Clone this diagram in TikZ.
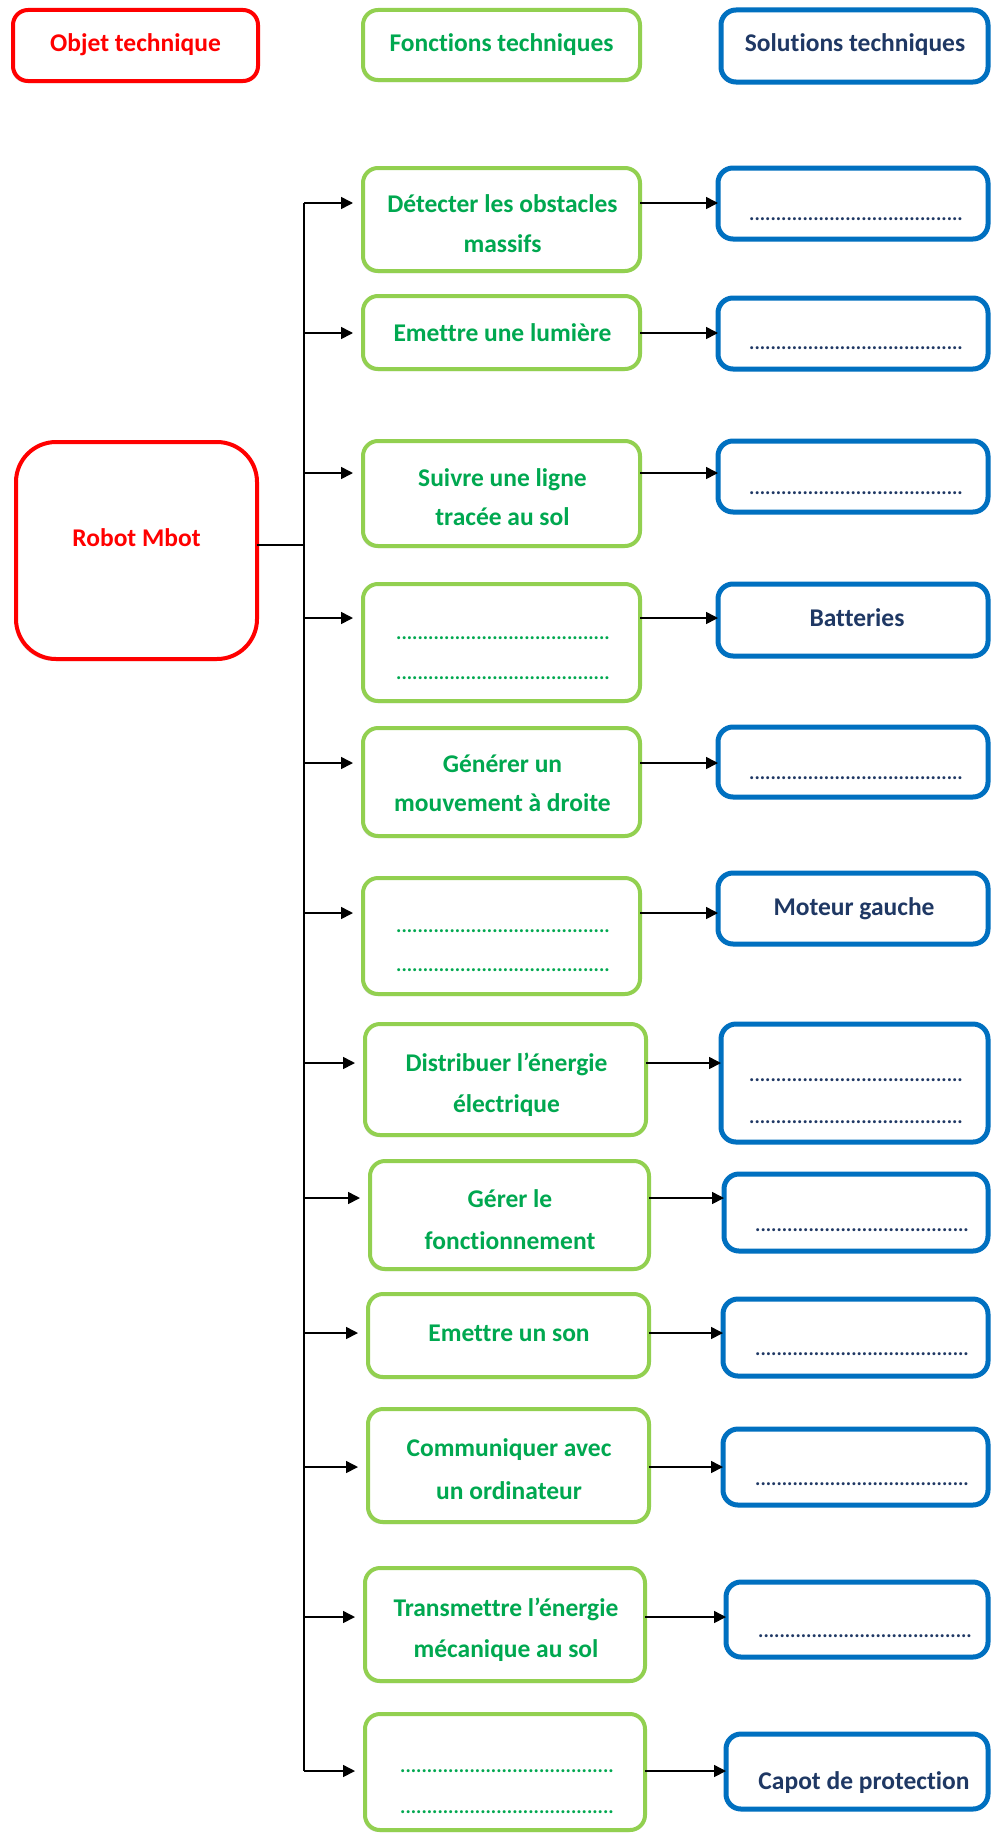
\documentclass[tikz,border=0pt]{standalone}
\usepackage{fontspec}
\setmainfont{Carlito}[Ligatures=NoCommon]
\usetikzlibrary{arrows.meta,shadows}
\definecolor{cred}{HTML}{FF0000}
\definecolor{cgreenb}{HTML}{92D050}
\definecolor{cgreent}{HTML}{00A850}
\definecolor{cblueb}{HTML}{0070C0}
\definecolor{cbluet}{HTML}{1F3864}
\newcommand\drow{........................................}
\newcommand\mkbox[6]{\node[#1, minimum width={(#5-#3)*1pt}, minimum height={(#6-#4)*1pt}] (#2) at ({(#3+#5)/2},{(#4+#6)/2}) {};}
\tikzset{
 box/.style={draw, fill=white, rounded corners=15pt, line width=4pt, inner sep=0pt, outer sep=0pt,
   drop shadow={shadow xshift=-1.5pt, shadow yshift=-2pt, opacity=0.15, fill=black}},
 redbox/.style={box, draw=cred},
 grnbox/.style={box, draw=cgreenb},
 blubox/.style={box, draw=cblueb, line width=5pt},
 txt/.style={font=\bfseries\fontsize{25.5}{40}\selectfont, inner sep=0pt, anchor=base},
 rtxt/.style={txt, text=cred},
 gtxt/.style={txt, text=cgreent},
 btxt/.style={txt, text=cbluet},
 gdots/.style={gtxt, font=\bfseries\fontsize{20}{24}\selectfont},
 bdots/.style={btxt, font=\bfseries\fontsize{20}{24}\selectfont},
 arr/.style={line width=1.6pt, -{Triangle[length=12pt,width=12pt]}},
 busline/.style={line width=2pt},
}
\begin{document}
\begin{tikzpicture}[x=1pt,y=-1pt]
\fill[white] (0,0) rectangle (993,1836);
\useasboundingbox (0,0) rectangle (993,1836);

% headers
\mkbox{redbox}{H1}{13}{10}{258}{81}
\mkbox{grnbox}{H2}{363}{10}{640}{80}
\mkbox{blubox}{H3}{721}{10}{988}{82}
\node[rtxt] (H1t) at (135.5,52) {Objet technique};
\node[gtxt] (H2t) at (501.5,52) {Fonctions techniques};
\node[btxt] (H3t) at (855,52) {Solutions techniques};

% robot
\mkbox{redbox, rounded corners=40pt}{R}{16}{442}{257}{659}
\node[rtxt] (Rt) at (136.5,546) {Robot Mbot};

% function boxes
\mkbox{grnbox}{F1}{363}{168}{640}{271}
\mkbox{grnbox}{F2}{363}{296}{640}{369}
\mkbox{grnbox}{F3}{363}{441}{640}{546}
\mkbox{grnbox}{F4}{363}{584}{640}{701}
\mkbox{grnbox}{F5}{363}{728}{640}{836}
\mkbox{grnbox}{F6}{363}{878}{640}{994}
\mkbox{grnbox}{F7}{365}{1024}{646}{1135}
\mkbox{grnbox}{F8}{370}{1161}{649}{1269}
\mkbox{grnbox}{F9}{368}{1294}{649}{1377}
\mkbox{grnbox}{F10}{368}{1409}{649}{1522}
\mkbox{grnbox}{F11}{365}{1568}{645}{1681}
\mkbox{grnbox}{F12}{365}{1714}{645}{1830}

% solution boxes
\mkbox{blubox}{S1}{718}{168}{988}{239}
\mkbox{blubox}{S2}{718}{298}{988}{369}
\mkbox{blubox}{S3}{718}{441}{988}{512}
\mkbox{blubox}{S4}{718}{584}{988}{656}
\mkbox{blubox}{S5}{718}{727}{988}{797}
\mkbox{blubox}{S6}{718}{873}{988}{944}
\mkbox{blubox}{S7}{721}{1024}{988}{1142}
\mkbox{blubox}{S8}{724}{1174}{988}{1251}
\mkbox{blubox}{S9}{723}{1299}{988}{1376}
\mkbox{blubox}{S10}{723}{1429}{988}{1505}
\mkbox{blubox}{S11}{726}{1582}{988}{1657}
\mkbox{blubox}{S12}{726}{1734}{988}{1809}

% function texts
\node[gtxt] (F1a) at (502.5,212) {Détecter les obstacles};
\node[gtxt] (F1b) at (502.5,252) {massifs};
\node[gtxt] (F2a) at (502.5,341) {Emettre une lumière};
\node[gtxt] (F3a) at (502.5,486) {Suivre une ligne};
\node[gtxt] (F3b) at (502.5,525) {tracée au sol};
\node[gdots] (F4a) at (503,639) {\drow};
\node[gdots] (F4b) at (503,679) {\drow};
\node[gtxt] (F5a) at (502.5,772) {Générer un};
\node[gtxt] (F5b) at (502.5,811) {mouvement à droite};
\node[gdots] (F6a) at (503,932) {\drow};
\node[gdots] (F6b) at (503,971) {\drow};
\node[gtxt] (F7a) at (506.5,1071) {Distribuer l’énergie};
\node[gtxt] (F7b) at (506.5,1112) {électrique};
\node[gtxt] (F8a) at (510,1207) {Gérer le};
\node[gtxt] (F8b) at (510,1249) {fonctionnement};
\node[gtxt] (F9a) at (509,1341) {Emettre un son};
\node[gtxt] (F10a) at (509,1456) {Communiquer avec};
\node[gtxt] (F10b) at (509,1499) {un ordinateur};
\node[gtxt] (F11a) at (506,1616) {Transmettre l’énergie};
\node[gtxt] (F11b) at (506,1657) {mécanique au sol};
\node[gdots] (F12a) at (507,1772) {\drow};
\node[gdots] (F12b) at (507,1813) {\drow};

% solution texts
\node[bdots] (S1a) at (856,220) {\drow};
\node[bdots] (S2a) at (856,349) {\drow};
\node[bdots] (S3a) at (856,494) {\drow};
\node[btxt] (S4a) at (857,626) {Batteries};
\node[bdots] (S5a) at (856,779) {\drow};
\node[btxt] (S6a) at (854,915) {Moteur gauche};
\node[bdots] (S7a) at (856,1081) {\drow};
\node[bdots] (S7b) at (856,1123) {\drow};
\node[bdots] (S8a) at (862,1231) {\drow};
\node[bdots] (S9a) at (862,1355) {\drow};
\node[bdots] (S10a) at (862,1485) {\drow};
\node[bdots] (S11a) at (865,1637) {\drow};
\node[btxt] (S12a) at (864,1789) {Capot de protection};

% bus
\coordinate (bt) at (304,203);
\coordinate (bb) at (304,1771);
\coordinate (rj) at (304,545);
\draw[busline] (bt) -- (bb);
\draw[line width=2.5pt] (rj -| R.east) -- (rj);

\foreach \i/\y in {1/203,2/333,3/473,4/618,5/763,6/913,7/1063,8/1198,9/1333,10/1467,11/1617,12/1771}{
  \coordinate (b\i) at (304,\y);
  \draw[arr, shorten >=10pt] (b\i) -- (b\i -| F\i.west);
  \draw[arr] (b\i -| F\i.east) -- (b\i -| S\i.west);
}
\end{tikzpicture}
\end{document}
